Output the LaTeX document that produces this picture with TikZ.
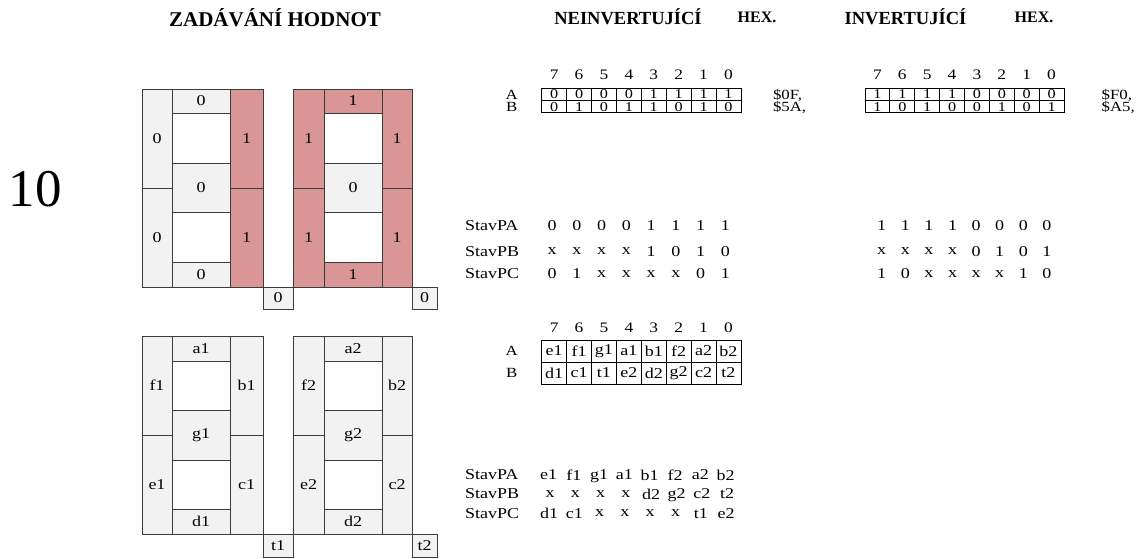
\documentclass[tikz,border=0pt]{standalone}
\usepackage{fontspec}
\setmainfont{Liberation Serif}
\newfontfamily\smallf{Liberation Serif}[FakeStretch=1.2]

\definecolor{segon}{RGB}{217,150,148}
\definecolor{segoff}{RGB}{242,242,242}
\definecolor{segline}{RGB}{60,60,60}

% one rectangular cell of a seven-segment display: style, x1, y1, x2, y2, name, label
\newcommand\segcell[7]{%
  \node[#1, minimum width={(#4-#2)*1pt}, minimum height={(#5-#3)*1pt}, anchor=north west] (#6) at (#2,#3) {#7};}

\begin{document}
\begin{tikzpicture}[x=1pt,y=-1pt,
  every node/.style={inner sep=0pt, outer sep=0pt},
  seg/.style={draw=segline, line width=0.9pt, font=\smallf\fontsize{15}{15}\selectfont},
  segoff/.style={seg, fill=segoff},
  segon/.style={seg, fill=segon},
  blank/.style={seg, fill=white},
  bitcell/.style={draw=black, line width=0.8pt, minimum width=24.9pt, anchor=north west,
    font=\smallf\fontsize{13.5}{13.5}\selectfont},
  hd/.style={font=\smallf\fontsize{14.5}{14.5}\selectfont, text depth=0pt},
  rowlab/.style={font=\smallf\fontsize{14}{14}\selectfont, text depth=0pt},
  stav/.style={font=\smallf\fontsize{15}{15}\selectfont, text depth=0pt, anchor=west},
  stavv/.style={font=\smallf\fontsize{15}{15}\selectfont, text depth=0pt},
  title/.style={font=\bfseries\fontsize{#1}{#1}\selectfont, text depth=0pt},
  hexv/.style={font=\smallf\fontsize{14}{14}\selectfont, text depth=0pt, anchor=west}]

\useasboundingbox (0,0) rectangle (1143,558);

% ---- column titles ----
\node[title=21] (tZad) at (275,17) {ZADÁVÁNÍ HODNOT};
\node[title=18.5] (tNein) at (628,17) {NEINVERTUJÍCÍ};
\node[title=16] (tHex1) at (757,17.5) {HEX.};
\node[title=18.5] (tInv) at (905.5,17) {INVERTUJÍCÍ};
\node[title=16] (tHex2) at (1034,17.5) {HEX.};

% ---- task number ----
\node[font=\fontsize{53}{53}\selectfont, anchor=base west] (num) at (9,206.7) {10};

% ---- upper display pair: value 0F ----
\segcell{segoff}{142}{89}{172}{188}{uLf}{0}
\segcell{segoff}{142}{188}{172}{287}{uLe}{0}
\segcell{segoff}{172}{89}{230}{113}{uLa}{0}
\segcell{blank}{172}{113}{230}{163}{uLw1}{}
\segcell{segoff}{172}{163}{230}{212}{uLg}{0}
\segcell{blank}{172}{212}{230}{262}{uLw2}{}
\segcell{segoff}{172}{262}{230}{287}{uLd}{0}
\segcell{segon}{230}{89}{263}{188}{uLb}{1}
\segcell{segon}{230}{188}{263}{287}{uLc}{1}
\segcell{segoff}{263}{287}{293}{309}{uLt}{0}

\segcell{segon}{293}{89}{324}{188}{uRf}{1}
\segcell{segon}{293}{188}{324}{287}{uRe}{1}
\segcell{segon}{324}{89}{382}{113}{uRa}{1}
\segcell{blank}{324}{113}{382}{163}{uRw1}{}
\segcell{segoff}{324}{163}{382}{212}{uRg}{0}
\segcell{blank}{324}{212}{382}{262}{uRw2}{}
\segcell{segon}{324}{262}{382}{287}{uRd}{1}
\segcell{segon}{382}{89}{412}{188}{uRb}{1}
\segcell{segon}{382}{188}{412}{287}{uRc}{1}
\segcell{segoff}{412}{287}{437}{309}{uRt}{0}

% ---- lower display pair: segment names ----
\segcell{segoff}{142}{336}{172}{435}{lLf}{f1}
\segcell{segoff}{142}{435}{172}{534}{lLe}{e1}
\segcell{segoff}{172}{336}{230}{361}{lLa}{a1}
\segcell{blank}{172}{361}{230}{410}{lLw1}{}
\segcell{segoff}{172}{410}{230}{460}{lLg}{g1}
\segcell{blank}{172}{460}{230}{509}{lLw2}{}
\segcell{segoff}{172}{509}{230}{534}{lLd}{d1}
\segcell{segoff}{230}{336}{263}{435}{lLb}{b1}
\segcell{segoff}{230}{435}{263}{534}{lLc}{c1}
\segcell{segoff}{263}{534}{293}{557}{lLt}{t1}

\segcell{segoff}{293}{336}{324}{435}{lRf}{f2}
\segcell{segoff}{293}{435}{324}{534}{lRe}{e2}
\segcell{segoff}{324}{336}{382}{361}{lRa}{a2}
\segcell{blank}{324}{361}{382}{410}{lRw1}{}
\segcell{segoff}{324}{410}{382}{460}{lRg}{g2}
\segcell{blank}{324}{460}{382}{509}{lRw2}{}
\segcell{segoff}{324}{509}{382}{534}{lRd}{d2}
\segcell{segoff}{382}{336}{412}{435}{lRb}{b2}
\segcell{segoff}{382}{435}{412}{534}{lRc}{c2}
\segcell{segoff}{412}{534}{437}{557}{lRt}{t2}

% ---- non-inverting port table ----
\foreach \b [count=\i from 0] in {7,6,5,4,3,2,1,0}
  \node[hd] (nH\i) at ({554.15+24.9*\i},75) {\b};
\node[rowlab] (nLA) at (511.7,94.5) {A};
\node[rowlab] (nLB) at (511.7,106.7) {B};
\foreach \v [count=\i from 0] in {0,0,0,0,1,1,1,1}
  \node[bitcell, minimum height=12.2pt] (nA\i) at ({541.7+24.9*\i},88.3) {\v};
\foreach \v [count=\i from 0] in {0,1,0,1,1,0,1,0}
  \node[bitcell, minimum height=12.2pt] (nB\i) at ({541.7+24.9*\i},100.5) {\v};
\node[hexv] (hA) at (773,94.5) {\$0F,};
\node[hexv] (hB) at (773,106.7) {\$5A,};

% ---- inverting port table ----
\foreach \b [count=\i from 0] in {7,6,5,4,3,2,1,0}
  \node[hd] (iH\i) at ({877.4+24.875*\i},75) {\b};
\foreach \v [count=\i from 0] in {1,1,1,1,0,0,0,0}
  \node[bitcell, minimum width=24.875pt, minimum height=12.2pt] (iA\i) at ({865+24.875*\i},88.3) {\v};
\foreach \v [count=\i from 0] in {1,0,1,0,0,1,0,1}
  \node[bitcell, minimum width=24.875pt, minimum height=12.2pt] (iB\i) at ({865+24.875*\i},100.5) {\v};
\node[hexv] (ihA) at (1101.7,94.5) {\$F0,};
\node[hexv] (ihB) at (1101.7,106.7) {\$A5,};

% ---- port states for value 0F ----
\node[stav] (sPA) at (465,226) {StavPA};
\node[stav] (sPB) at (465,251.5) {StavPB};
\node[stav] (sPC) at (465,274) {StavPC};
\foreach \v [count=\i from 0] in {0,0,0,0,1,1,1,1}
  \node[stavv] (sA\i) at ({552+24.75*\i},226) {\v};
\foreach \v [count=\i from 0] in {x,x,x,x,1,0,1,0}
  \node[stavv] (sB\i) at ({552+24.75*\i},251.5) {\v};
\foreach \v [count=\i from 0] in {0,1,x,x,x,x,0,1}
  \node[stavv] (sC\i) at ({552+24.75*\i},274) {\v};

\foreach \v [count=\i from 0] in {1,1,1,1,0,0,0,0}
  \node[stavv] (tA\i) at ({881.7+23.6*\i},226) {\v};
\foreach \v [count=\i from 0] in {x,x,x,x,0,1,0,1}
  \node[stavv] (tB\i) at ({881.7+23.6*\i},251.5) {\v};
\foreach \v [count=\i from 0] in {1,0,x,x,x,x,1,0}
  \node[stavv] (tC\i) at ({881.7+23.6*\i},274) {\v};

% ---- segment assignment table ----
\foreach \b [count=\i from 0] in {7,6,5,4,3,2,1,0}
  \node[hd] (mH\i) at ({554.15+24.9*\i},328) {\b};
\node[rowlab] (mLA) at (511.7,351) {A};
\node[rowlab] (mLB) at (511.7,373) {B};
\foreach \v [count=\i from 0] in {e1,f1,g1,a1,b1,f2,a2,b2}
  \node[bitcell, minimum height=22pt, font=\smallf\fontsize{15}{15}\selectfont] (mA\i) at ({541.7+24.9*\i},340) {\v};
\foreach \v [count=\i from 0] in {d1,c1,t1,e2,d2,g2,c2,t2}
  \node[bitcell, minimum height=22pt, font=\smallf\fontsize{15}{15}\selectfont] (mB\i) at ({541.7+24.9*\i},362) {\v};

% ---- port states for segment names ----
\node[stav] (qPA) at (465,475) {StavPA};
\node[stav] (qPB) at (465,494) {StavPB};
\node[stav] (qPC) at (465,513.3) {StavPC};
\foreach \v [count=\i from 0] in {e1,f1,g1,a1,b1,f2,a2,b2}
  \node[stavv] (qA\i) at ({548.5+25.3*\i},475) {\v};
\foreach \v [count=\i from 0] in {x,x,x,x,d2,g2,c2,t2}
  \node[stavv] (qB\i) at ({550+25.3*\i},494) {\v};
\foreach \v [count=\i from 0] in {d1,c1,x,x,x,x,t1,e2}
  \node[stavv] (qC\i) at ({549+25.3*\i},513.3) {\v};

\end{tikzpicture}
\end{document}
